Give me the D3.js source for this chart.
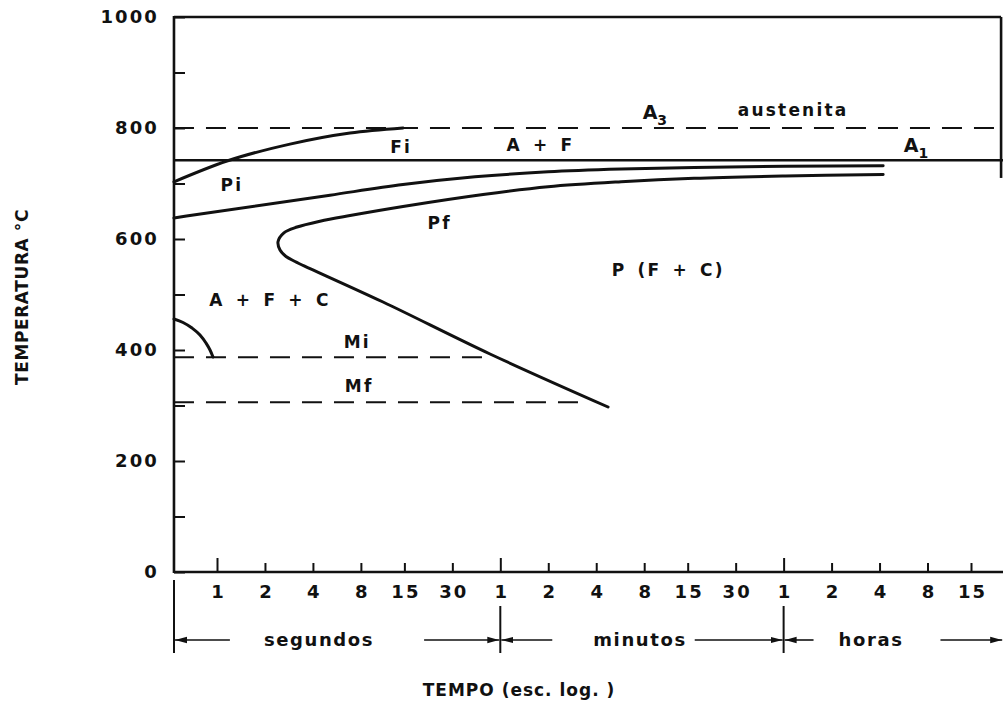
<!DOCTYPE html>
<html>
<head>
<meta charset="utf-8">
<script src="https://cdn.jsdelivr.net/npm/d3@7"></script>
<style>
  body { margin: 0; background: #fff; }
  svg { display: block; background: #fff; }
  text { font-family: "DejaVu Sans", "Liberation Sans", Arial, sans-serif; fill: #111; }
</style>
</head>
<body>
<svg id="chart" width="1003" height="704"></svg>
<script>
// ---- Diagrama TTT (transformação isotérmica) de um aço eutetóide ----
// tempo em segundos (escala logarítmica), temperatura em °C

const tempTicks = [0, 100, 200, 300, 400, 500, 600, 700, 800, 900, 1000];
const tempLabelStep = 200;

const timeTicks = [1, 2, 4, 8, 15, 30, 60, 120, 240, 480, 900, 1800, 3600, 7200, 14400, 28800, 54000];
const timeTickLabels = ["1", "2", "4", "8", "15", "30", "1", "2", "4", "8", "15", "30", "1", "2", "4", "8", "15"];
const unitStarts = [1, 60, 3600];          // 1 s, 1 min, 1 h

const tStart = 0.537;                      // origem do eixo dos tempos
const tEnd = 86000;                        // extremidade direita das linhas
const tFrame = 83400;                      // moldura à direita

// temperaturas críticas
const tempA3 = 800;
const tempA1 = 742;
const tempMi = 387;
const tempMf = 306;
const tMiEnd = 52;
const tMfEnd = 205;
const tempFrameBottom = 710;

// curvas [tempo (s), temperatura (°C)]
const curveFi = [[0.537, 703], [1.155, 740.5], [2.87, 771], [6.84, 791], [14.7, 800]];
const curvePi = [[0.537, 638], [5.12, 679], [14.7, 698], [41.6, 712], [119.6, 721], [344, 726],
                 [987, 729], [3678, 731], [15170, 732]];
// fim da perlita: ramo superior, "nariz" e ramo inferior
const curvePf = [[15170, 716.2], [3678, 713.5], [987, 709.4], [344, 703.2], [119.6, 694.2], [46.8, 680.2],
                 [14.7, 658.6], [6.84, 642.3], [4.43, 632.1], [3.18, 621.6], [2.63, 611.2], [2.415, 595],
                 [2.486, 580.2], [2.711, 568.5], [3.088, 559.5], [3.836, 546.8], [11.02, 486.5],
                 [51.7, 392.8], [284.8, 297.3]];
const curveLow = [[0.537, 455.9], [0.612, 449.5], [0.697, 439.6], [0.782, 427], [0.853, 412.6],
                  [0.904, 400], [0.944, 387.4]];

// rótulos das regiões
const regionNames = ["Pi", "Fi", "A + F", "austenita", "Pf", "P (F + C)", "A + F + C", "Mi", "Mf"];
const regionTimes = [1.24, 14.3, 107, 4130, 25, 680, 2.15, 7.6, 7.8];
const regionTemps = [697, 766, 769, 832, 629, 544, 490, 414, 335];

const criticalNames = ["A", "A"];
const criticalSubs = ["3", "1"];
const criticalTimes = [560, 24400];
const criticalTemps = [829, 768];

const unitNames = ["segundos", "minutos", "horas"];

// ---- escalas ----
const x = d3.scaleLog().domain([1, 54000]).range([217, 971]);
const y = d3.scaleLinear().domain([0, 1000]).range([572, 17]);

const svg = d3.select("#chart");
const ink = "#111";

// marcador das setas
svg.append("defs").append("marker")
  .attr("id", "arrow")
  .attr("viewBox", "0 0 12 8")
  .attr("refX", 12).attr("refY", 4)
  .attr("markerWidth", 12).attr("markerHeight", 8)
  .attr("markerUnits", "userSpaceOnUse")
  .attr("orient", "auto")
  .append("path").attr("d", "M0,0.8 L12,4 L0,7.2 Z").attr("fill", ink);

const numberStyle = sel => sel
  .style("font-family", "'DejaVu Sans', sans-serif")
  .style("font-weight", "bold")
  .style("font-size", "18px")
  .style("letter-spacing", "2.1px")
  .attr("fill", ink);

// ---- eixos ----
const axisY = d3.axisLeft(y)
  .tickValues(tempTicks)
  .tickSize(-11)
  .tickSizeOuter(0)
  .tickPadding(15)
  .tickFormat(d => d % tempLabelStep === 0 ? d : "");

const gy = svg.append("g").attr("transform", `translate(${x(tStart)},0)`).call(axisY);
gy.select(".domain").remove();
gy.selectAll(".tick line").attr("stroke", ink).attr("stroke-width", 2);
gy.selectAll(".tick text").call(numberStyle);

const axisX = d3.axisBottom(x)
  .tickValues(timeTicks)
  .tickSize(-9)
  .tickSizeOuter(0)
  .tickPadding(13)
  .tickFormat((d, i) => timeTickLabels[i]);

const gx = svg.append("g").attr("transform", `translate(0,${y(0)})`).call(axisX);
gx.select(".domain").remove();
gx.selectAll(".tick line")
  .attr("stroke", ink).attr("stroke-width", 2)
  .attr("y2", d => unitStarts.includes(d) ? -14 : -9);
gx.selectAll(".tick text").call(numberStyle).attr("dx", "1px");

// linhas dos eixos e moldura
const frame = svg.append("g").attr("fill", "none").attr("stroke", ink).attr("stroke-width", 2.6);
frame.append("line").attr("x1", x(tStart)).attr("x2", x(tStart)).attr("y1", y(0) + 1).attr("y2", y(1000) - 1);
frame.append("line").attr("x1", x(tStart)).attr("x2", x(tEnd)).attr("y1", y(0)).attr("y2", y(0));
frame.append("line").attr("x1", x(tStart)).attr("x2", x(tFrame)).attr("y1", y(1000)).attr("y2", y(1000));
frame.append("line").attr("x1", x(tFrame)).attr("x2", x(tFrame)).attr("y1", y(1000)).attr("y2", y(tempFrameBottom));

// ---- linhas críticas ----
const dash = "20,12";
const crit = svg.append("g").attr("fill", "none").attr("stroke", ink);
crit.append("line").attr("x1", x(tStart)).attr("x2", x(tEnd)).attr("y1", y(tempA3)).attr("y2", y(tempA3))
  .attr("stroke-width", 2).attr("stroke-dasharray", dash);
crit.append("line").attr("x1", x(tStart)).attr("x2", x(tEnd)).attr("y1", y(tempA1)).attr("y2", y(tempA1))
  .attr("stroke-width", 2.6);
crit.append("line").attr("x1", x(tStart)).attr("x2", x(tMiEnd)).attr("y1", y(tempMi)).attr("y2", y(tempMi))
  .attr("stroke-width", 2).attr("stroke-dasharray", dash);
crit.append("line").attr("x1", x(tStart)).attr("x2", x(tMfEnd)).attr("y1", y(tempMf)).attr("y2", y(tempMf))
  .attr("stroke-width", 2).attr("stroke-dasharray", dash);

// ---- curvas de transformação ----
const lineMono = d3.line().x(d => x(d[0])).y(d => y(d[1])).curve(d3.curveMonotoneX);
const lineNose = d3.line().x(d => x(d[0])).y(d => y(d[1])).curve(d3.curveCatmullRom.alpha(0.5));

const curves = svg.append("g").attr("fill", "none").attr("stroke", ink).attr("stroke-width", 3)
  .attr("stroke-linecap", "round").attr("stroke-linejoin", "round");
curves.selectAll("path.mono")
  .data([curveFi, curvePi, curveLow])
  .join("path").attr("class", "mono")
  .attr("d", lineMono);
curves.append("path").datum(curvePf).attr("d", lineNose);

// ---- rótulos das regiões ----
svg.append("g").selectAll("text")
  .data(regionNames)
  .join("text")
  .attr("x", (d, i) => x(regionTimes[i]))
  .attr("y", (d, i) => y(regionTemps[i]))
  .attr("dy", "0.35em")
  .attr("text-anchor", "middle")
  .style("font-weight", "bold")
  .style("font-size", "17px")
  .style("letter-spacing", "2.2px")
  .style("word-spacing", "3px")
  .text(d => d);

const critLabels = svg.append("g").selectAll("text")
  .data(criticalNames)
  .join("text")
  .attr("x", (d, i) => x(criticalTimes[i]))
  .attr("y", (d, i) => y(criticalTemps[i]))
  .attr("dy", "0.35em")
  .attr("text-anchor", "middle")
  .style("font-weight", "bold")
  .style("font-size", "19px");
critLabels.append("tspan").text(d => d);
critLabels.append("tspan")
  .attr("dy", 6)
  .style("font-size", "14px")
  .text((d, i) => criticalSubs[i]);

// ---- faixa das unidades de tempo ----
const unitRow = 640;
const unitEdges = [tStart, 60, 3600, tEnd];
const unitLabelX = [319, 640, 871];
const unitGapLeft = [34, 41, 25];
const unitGapRight = [50, 8, 37];

const units = svg.append("g");
units.append("line").attr("x1", x(tStart)).attr("x2", x(tStart)).attr("y1", 580).attr("y2", 653)
  .attr("stroke", ink).attr("stroke-width", 2);
[60, 3600].forEach(t => {
  units.append("line").attr("x1", x(t)).attr("x2", x(t)).attr("y1", 606).attr("y2", 653)
    .attr("stroke", ink).attr("stroke-width", 2);
});

unitNames.forEach((name, i) => {
  const txt = units.append("text")
    .attr("x", unitLabelX[i]).attr("y", unitRow).attr("dy", "0.35em")
    .attr("text-anchor", "middle")
    .style("font-size", "18px")
    .style("font-weight", "600")
    .style("letter-spacing", "1.6px")
    .text(name);
  const w = txt.node().getComputedTextLength();
  const left = unitLabelX[i] - w / 2;
  const right = unitLabelX[i] + w / 2;
  units.append("line")
    .attr("x1", left - unitGapLeft[i]).attr("x2", x(unitEdges[i]) + 1)
    .attr("y1", unitRow).attr("y2", unitRow)
    .attr("stroke", ink).attr("stroke-width", 1.6)
    .attr("marker-end", "url(#arrow)");
  units.append("line")
    .attr("x1", right + unitGapRight[i]).attr("x2", x(unitEdges[i + 1]) - 1)
    .attr("y1", unitRow).attr("y2", unitRow)
    .attr("stroke", ink).attr("stroke-width", 1.6)
    .attr("marker-end", "url(#arrow)");
});

// ---- títulos dos eixos ----
svg.append("text")
  .attr("transform", "translate(22,297) rotate(-90)")
  .attr("text-anchor", "middle")
  .attr("dy", "0.35em")
  .style("font-weight", "bold")
  .style("font-size", "17px")
  .style("letter-spacing", "0.6px")
  .text("TEMPERATURA °C");

svg.append("text")
  .attr("x", 519).attr("y", 690).attr("dy", "0.35em")
  .attr("text-anchor", "middle")
  .style("font-size", "17px")
  .style("font-weight", "600")
  .style("letter-spacing", "1px")
  .text("TEMPO (esc. log. )");
</script>
</body>
</html>
